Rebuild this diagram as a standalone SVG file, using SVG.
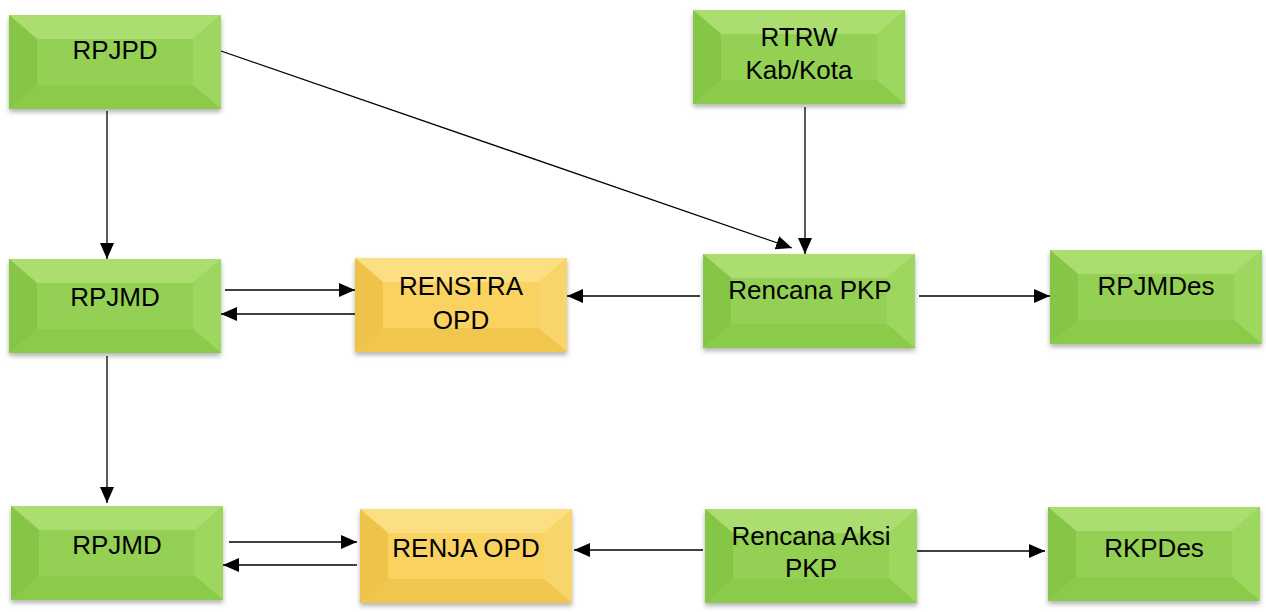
<svg xmlns="http://www.w3.org/2000/svg" width="1266" height="612" viewBox="0 0 1266 612">
<style>
.t{font-family:"Liberation Sans",Arial,sans-serif;font-size:26px;fill:#000;text-anchor:middle}
.c line{stroke:#000;stroke-width:1.3}
.gf{fill:#93d052}.gt{fill:#abdd70}.gl{fill:#86c646}.gr{fill:#9dd75e}.gb{fill:#8acb4a}
.yf{fill:#f9d25e}.yt{fill:#fcdf82}.yl{fill:#efc24a}.yr{fill:#f8d56a}.yb{fill:#f1c650}
</style>
<defs>
<marker id="a" viewBox="0 0 16 14" refX="16" refY="7" markerWidth="16" markerHeight="14" markerUnits="userSpaceOnUse" orient="auto"><path d="M0,0L16,7L0,14z" fill="#000"/></marker>
<filter id="s" x="-10%" y="-10%" width="120%" height="130%"><feDropShadow dx="0" dy="3" stdDeviation="2.5" flood-color="#000" flood-opacity="0.3"/></filter>
<g id="gbox">
<rect x="0" y="0" width="212" height="94" class="gf"/>
<polygon points="0,0 212,0 184,24 28,24" class="gt"/>
<polygon points="0,0 28,24 28,70 0,94" class="gl"/>
<polygon points="212,0 212,94 184,70 184,24" class="gr"/>
<polygon points="0,94 28,70 184,70 212,94" class="gb"/>
<rect x="28" y="24" width="156" height="46" class="gf"/>
</g>
<g id="ybox">
<rect x="0" y="0" width="212" height="94" class="yf"/>
<polygon points="0,0 212,0 184,24 28,24" class="yt"/>
<polygon points="0,0 28,24 28,70 0,94" class="yl"/>
<polygon points="212,0 212,94 184,70 184,24" class="yr"/>
<polygon points="0,94 28,70 184,70 212,94" class="yb"/>
<rect x="28" y="24" width="156" height="46" class="yf"/>
</g>
</defs>
<rect width="1266" height="612" fill="#fff"/>
<g id="rpjpd"><use href="#gbox" x="9" y="15" filter="url(#s)"/><text class="t" x="115" y="59">RPJPD</text></g>
<g id="rtrw"><use href="#gbox" x="693" y="10" filter="url(#s)"/><text class="t" x="799" y="46">RTRW</text><text class="t" x="799" y="79">Kab/Kota</text></g>
<g id="rpjmd1"><use href="#gbox" x="9" y="259" filter="url(#s)"/><text class="t" x="115" y="306">RPJMD</text></g>
<g id="renstra"><use href="#ybox" x="355" y="258" filter="url(#s)"/><text class="t" x="461" y="295">RENSTRA</text><text class="t" x="461" y="329">OPD</text></g>
<g id="pkp"><use href="#gbox" x="703" y="254" filter="url(#s)"/><text class="t" x="810" y="299">Rencana PKP</text></g>
<g id="rpjmdes"><use href="#gbox" x="1050" y="250" filter="url(#s)"/><text class="t" x="1156" y="295">RPJMDes</text></g>
<g id="rpjmd2"><use href="#gbox" x="11" y="506" filter="url(#s)"/><text class="t" x="117" y="554">RPJMD</text></g>
<g id="renja"><use href="#ybox" x="360" y="509" filter="url(#s)"/><text class="t" x="466" y="557">RENJA OPD</text></g>
<g id="aksi"><use href="#gbox" x="705" y="509" filter="url(#s)"/><text class="t" x="811" y="545">Rencana Aksi</text><text class="t" x="811" y="577">PKP</text></g>
<g id="rkpdes"><use href="#gbox" x="1048" y="507" filter="url(#s)"/><text class="t" x="1154" y="557">RKPDes</text></g>
<g class="c">
<line x1="221" y1="51" x2="792" y2="248" marker-end="url(#a)"/>
<line x1="805" y1="107" x2="805" y2="254" marker-end="url(#a)"/>
<line x1="107" y1="111" x2="107" y2="259" marker-end="url(#a)"/>
<line x1="225" y1="290" x2="355" y2="290" marker-end="url(#a)"/>
<line x1="355" y1="314" x2="221" y2="314" marker-end="url(#a)"/>
<line x1="700" y1="296" x2="567" y2="296" marker-end="url(#a)"/>
<line x1="919" y1="296" x2="1050" y2="296" marker-end="url(#a)"/>
<line x1="107" y1="356" x2="107" y2="503" marker-end="url(#a)"/>
<line x1="229" y1="542" x2="357" y2="542" marker-end="url(#a)"/>
<line x1="357" y1="565" x2="223" y2="565" marker-end="url(#a)"/>
<line x1="703" y1="550" x2="574" y2="550" marker-end="url(#a)"/>
<line x1="917" y1="551" x2="1045" y2="551" marker-end="url(#a)"/>
</g>
</svg>
